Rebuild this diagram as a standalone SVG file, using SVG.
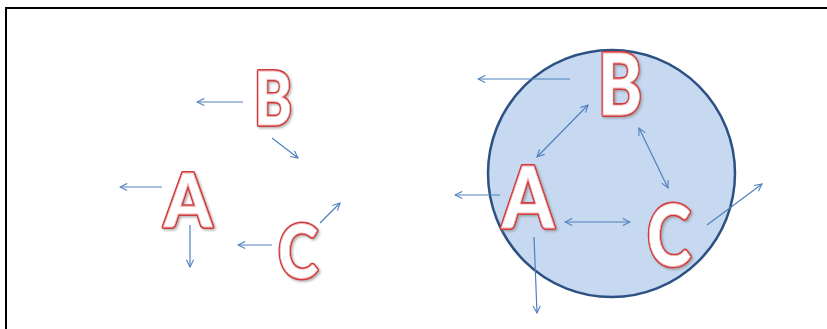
<svg xmlns="http://www.w3.org/2000/svg" width="827" height="329" viewBox="0 0 827 329">
  <defs>
    <style>
      .frame { fill: none; stroke: #000; stroke-width: 2; }
      .arrow { fill: none; stroke: #4f81bd; stroke-width: 1.2; }
      .letter { font-family: Lato, "Open Sans", "Liberation Sans", sans-serif; font-weight: 900; text-anchor: middle; }
      .outline { fill: #ffffff; stroke: #d03a3a; stroke-width: 4; stroke-linejoin: round; paint-order: stroke; filter: url(#shadow); }
      .inner { fill: none; stroke: #f2b8b8; stroke-width: 0.8; }
      .small { font-size: 74px; }
      .large { font-size: 86px; }
      .disc { fill: #c6d9f1; stroke: #2e5184; stroke-width: 2.5; }
    </style>
    <marker id="head" viewBox="0 0 10 10" refX="9" refY="5" markerWidth="9" markerHeight="9" markerUnits="userSpaceOnUse" orient="auto-start-reverse">
      <path d="M1,1 L9,5 L1,9" fill="none" stroke="#4f81bd" stroke-width="1.2"/>
    </marker>
    <filter id="shadow" x="-20%" y="-20%" width="140%" height="140%">
      <feDropShadow dx="1.5" dy="1.5" stdDeviation="1.2" flood-color="#808080" flood-opacity="0.6"/>
    </filter>
  </defs>

  <!-- page frame: top and left edges -->
  <path class="frame" d="M6,329 L6,8 L827,8"/>

  <!-- right-hand grouping disc -->
  <circle id="disc" class="disc" cx="611.5" cy="173.5" r="123.5"/>

  <g id="connectors">
    <!-- isolated nodes -->
    <line class="arrow" x1="243" y1="102" x2="197" y2="102" marker-end="url(#head)"/>
    <line class="arrow" x1="272" y1="138" x2="298" y2="158" marker-end="url(#head)"/>
    <line class="arrow" x1="162" y1="187" x2="120" y2="187" marker-end="url(#head)"/>
    <line class="arrow" x1="190" y1="225" x2="190" y2="267" marker-end="url(#head)"/>
    <line class="arrow" x1="272" y1="245" x2="238" y2="245" marker-end="url(#head)"/>
    <line class="arrow" x1="320" y1="223" x2="340" y2="203" marker-end="url(#head)"/>
    <!-- grouped nodes -->
    <line class="arrow" x1="570" y1="79" x2="478" y2="79" marker-end="url(#head)"/>
    <line class="arrow" x1="588" y1="105" x2="537" y2="157" marker-start="url(#head)" marker-end="url(#head)"/>
    <line class="arrow" x1="639" y1="128" x2="668" y2="188" marker-start="url(#head)" marker-end="url(#head)"/>
    <line class="arrow" x1="565" y1="222" x2="630" y2="222" marker-start="url(#head)" marker-end="url(#head)"/>
    <line class="arrow" x1="500" y1="195" x2="455" y2="195" marker-end="url(#head)"/>
    <line class="arrow" x1="534" y1="237" x2="537" y2="313" marker-end="url(#head)"/>
    <line class="arrow" x1="707" y1="225" x2="762" y2="184" marker-end="url(#head)"/>
  </g>

  <g id="B-left" class="letter small"><text class="outline" x="273" y="125" textLength="38" lengthAdjust="spacingAndGlyphs">B</text><text class="inner" x="273" y="125" textLength="38" lengthAdjust="spacingAndGlyphs">B</text></g>
  <g id="A-left" class="letter small"><text class="outline" x="188" y="227" textLength="48" lengthAdjust="spacingAndGlyphs">A</text><text class="inner" x="188" y="227" textLength="48" lengthAdjust="spacingAndGlyphs">A</text></g>
  <g id="C-left" class="letter small"><text class="outline" x="298" y="278" textLength="40" lengthAdjust="spacingAndGlyphs">C</text><text class="inner" x="298" y="278" textLength="40" lengthAdjust="spacingAndGlyphs">C</text></g>

  <g id="B-right" class="letter large"><text class="outline" x="620" y="115" textLength="44" lengthAdjust="spacingAndGlyphs">B</text><text class="inner" x="620" y="115" textLength="44" lengthAdjust="spacingAndGlyphs">B</text></g>
  <g id="A-right" class="letter large"><text class="outline" x="528" y="228" textLength="52" lengthAdjust="spacingAndGlyphs">A</text><text class="inner" x="528" y="228" textLength="52" lengthAdjust="spacingAndGlyphs">A</text></g>
  <g id="C-right" class="letter large"><text class="outline" x="669" y="266" textLength="44" lengthAdjust="spacingAndGlyphs">C</text><text class="inner" x="669" y="266" textLength="44" lengthAdjust="spacingAndGlyphs">C</text></g>
</svg>
